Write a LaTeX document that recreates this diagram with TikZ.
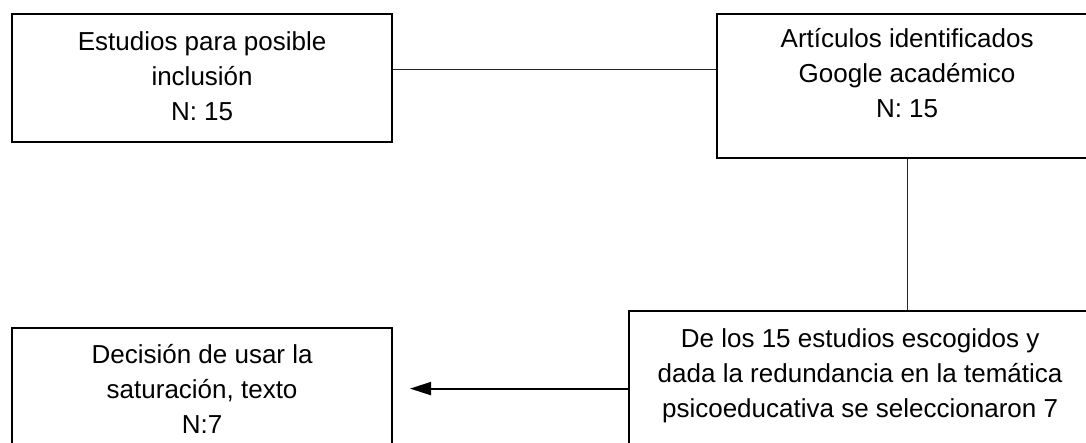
\documentclass[tikz,border=0pt]{standalone}
\usepackage{fontspec}
\setmainfont{Liberation Sans}
\usetikzlibrary{positioning,arrows.meta}

\begin{document}
\begin{tikzpicture}[x=1pt,y=-1pt]
        \tikzstyle{box}=[draw=black,line width=2.2pt,rectangle,inner sep=0pt,anchor=north west]
        \tikzstyle{txt}=[align=center,inner sep=0pt,font=\fontsize{26}{35}\selectfont,text=black]
        \tikzstyle{link}=[draw=black!85,line width=1pt]
        \useasboundingbox (0,0) rectangle (1086,443);
        \clip (0,0) rectangle (1086,443);
        \node[box,minimum width=380pt,minimum height=128pt] (estudios) at (11,13) {};
        \node[box,minimum width=380pt,minimum height=144pt] (articulos) at (716,13) {};
        \node[box,minimum width=470pt,minimum height=150pt] (seleccion) at (628,310) {};
        \node[box,minimum width=380pt,minimum height=150pt] (decision) at (11,327) {};
        \node[txt,below=18pt of estudios.north] (estudiostxt) {Estudios para posible\\inclusión\\N: 15};
        \node[txt,below=15pt of articulos.north] (articulostxt) {Artículos identificados\\Google académico\\N: 15};
        \node[txt,below=18pt of seleccion.north,xshift=-4pt] (selecciontxt) {De los 15 estudios escogidos y\\dada la redundancia en la temática\\psicoeducativa se seleccionaron 7};
        \node[txt,below=17pt of decision.north] (decisiontxt) {Decisión de usar la\\saturación, texto\\N:7};
        \draw[link] ([yshift=9pt]estudios.east) -- ([yshift=9pt]estudios.east -| articulos.west);
        \draw[link] (articulos.south) -- (articulos.south |- seleccion.north);
        \draw[line width=1.9pt,-{Triangle[length=21pt,width=13pt]}] ([yshift=-2.5pt]seleccion.west) -- ([yshift=-2.5pt]seleccion.west -| 410,0);
    \end{tikzpicture}
\end{document}
